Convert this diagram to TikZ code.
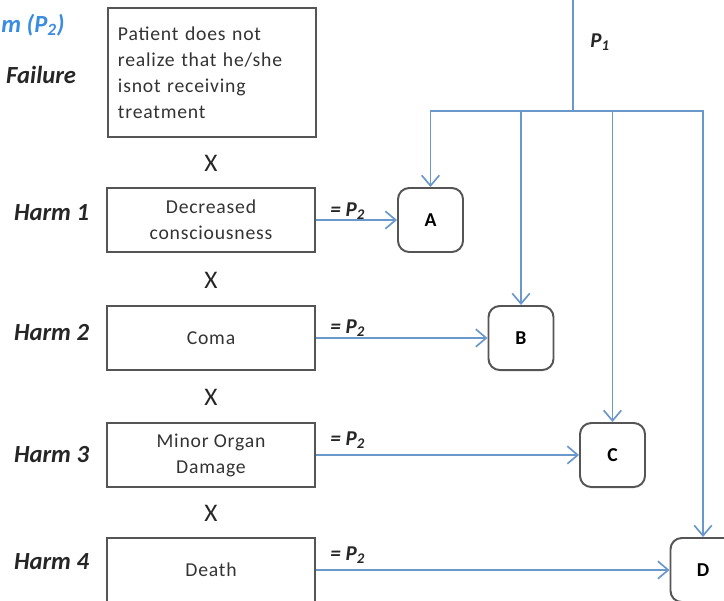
\documentclass[tikz,border=0pt]{standalone}
\usepackage{fontspec}
\setsansfont{Carlito}
\newfontfamily\boxfont[LetterSpace=4]{Carlito}
\usetikzlibrary{positioning, arrows.meta, calc}
\definecolor{boxCol}{HTML}{555555}
\definecolor{textCol}{HTML}{333333}
\definecolor{lineCol}{HTML}{6B98CB}
\definecolor{titleCol}{HTML}{3A8CE0}

\begin{document}
\begin{tikzpicture}[
    x=0.025cm, y=-0.025cm,
    % Node styles
    harmbox/.style={
        rectangle,
        draw=boxCol,
        fill=white,
        text=textCol,
        font=\boxfont\fontsize{14}{18.5}\selectfont,
        minimum width=5.2cm,
        minimum height=1.6cm,
        align=center,
        line width=1.4pt
    },
    outbox/.style={
        rectangle,
        rounded corners=8pt,
        draw=boxCol,
        fill=white,
        font=\sffamily\bfseries\fontsize{14}{16}\selectfont,
        minimum width=1.625cm,
        minimum height=1.6cm,
        line width=1.4pt
    },
    rowlabel/.style={
        font=\sffamily\bfseries\itshape\fontsize{17.5}{20}\selectfont,
        text=black!85
    },
    times/.style={
        font=\sffamily\fontsize{18}{20}\selectfont,
        text=black!85
    },
    eqlabel/.style={
        font=\sffamily\bfseries\itshape\fontsize{15}{18}\selectfont,
        text=black!85,
        anchor=base west,
        inner sep=0pt
    },
    arrow/.style={
        -{Straight Barb[length=2.6mm, width=4.4mm, line width=1.2pt]},
        line width=1.4pt,
        draw=lineCol
    }
]
    \useasboundingbox (0,0) rectangle (724,600);

    % ==== LEFT COLUMN ====
    \node[rowlabel, text=titleCol, anchor=west, inner sep=0pt] (title) at (1,25) {m (P\textsubscript{2})};
    \node[rowlabel, anchor=east] (fail) at (81,75) {Failure};
    \node[rowlabel, anchor=east] (l1) at (94,213) {Harm 1};
    \node[rowlabel, anchor=east] (l2) at (94,333) {Harm 2};
    \node[rowlabel, anchor=east] (l3) at (94,455) {Harm 3};
    \node[rowlabel, anchor=east] (l4) at (94,562) {Harm 4};

    % ==== HARM CHAIN ====
    \node[harmbox, minimum height=3.225cm, align=left, text width=4.7cm, anchor=north west] (fbox) at (107,7)
        {Patient does not\\realize that he/she\\isnot receiving\\treatment};
    \node[harmbox] (h1) at (211,220) {Decreased\\consciousness};
    \node[harmbox] (h2) at (211,338) {Coma};
    \node[harmbox] (h3) at (211,455) {Minor Organ\\Damage};
    \node[harmbox] (h4) at (211,570) {Death};

    \node[times] (x1) at (211,163) {X};
    \node[times] (x2) at (211,280) {X};
    \node[times] (x3) at (211,397) {X};
    \node[times] (x4) at (211,513) {X};

    % ==== OUTCOMES ====
    \node[outbox] (A) at (430.5,220) {A};
    \node[outbox] (B) at (521,338) {B};
    \node[outbox] (C) at (612.5,455) {C};
    \node[outbox] (D) at (703,570) {D};

    % ==== CONNECTIONS ====
    \coordinate (top) at (573,0);
    \coordinate (bus) at (573,111);
    \draw[line width=1.4pt, draw=lineCol] (top) -- (bus);
    \node[eqlabel] (p1) at (590,47) {P\textsubscript{1}};

    % bus -> outcomes
    \draw[arrow] (bus) -| (A);
    \draw[arrow] (bus) -| (B);
    \draw[arrow] (bus) -| (C);
    \draw[arrow] (bus) -| (D);

    % harms -> outcomes
    \draw[arrow] (h1) -- (A);
    \draw[arrow] (h2) -- (B);
    \draw[arrow] (h3) -- (C);
    \draw[arrow] (h4) -- (D);

    \node[eqlabel] (e1) at (330,216) {= P\textsubscript{2}};
    \node[eqlabel] (e2) at (330,333) {= P\textsubscript{2}};
    \node[eqlabel] (e3) at (330,445) {= P\textsubscript{2}};
    \node[eqlabel] (e4) at (330,560) {= P\textsubscript{2}};

\end{tikzpicture}
\end{document}
